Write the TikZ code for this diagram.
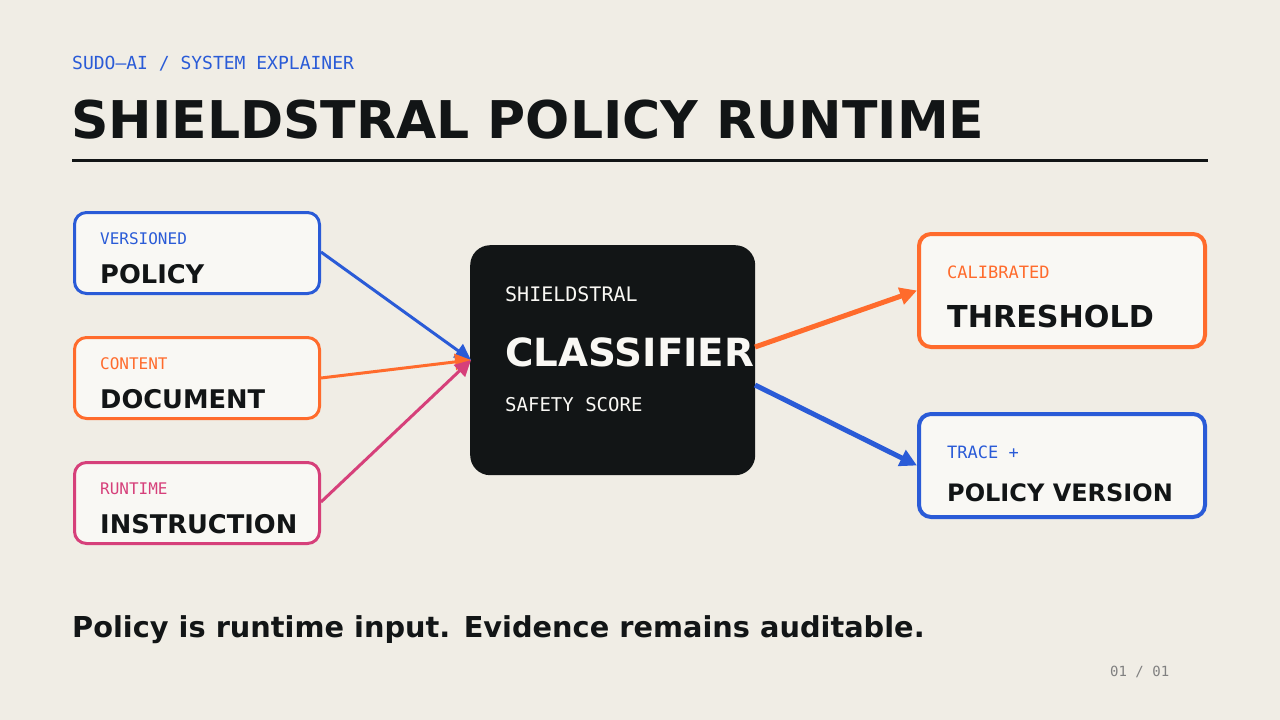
\documentclass[tikz,border=0pt]{standalone}
\usepackage{fontspec}
\setmainfont{DejaVu Sans}
\newfontfamily\monofont{DejaVu Sans Mono}
\usetikzlibrary{arrows.meta}
\definecolor{bgpaper}{HTML}{F0EDE5}
\definecolor{cardfill}{HTML}{F9F8F4}
\definecolor{inkdark}{HTML}{121516}
\definecolor{sudoblue}{HTML}{2A5BD7}
\definecolor{sudoorange}{HTML}{FF6B2C}
\definecolor{sudopink}{HTML}{D6407A}
\tikzset{
  card/.style = {draw = #1, line width = 3pt, fill = cardfill, rounded corners = 12pt, anchor = north west},
  tag/.style = {anchor = base west, inner sep = 0pt, text = #1, font = \monofont\fontsize{16}{16}\selectfont},
  head/.style = {anchor = base west, inner sep = 0pt, text = inkdark, font = \bfseries\fontsize{25.7}{25.7}\selectfont},
  feed/.style = {draw = #1, line width = 3pt, -{Triangle[length = 16pt, width = 16pt]}},
}
\begin{document}
\begin{tikzpicture}[x = 1pt, y = -1pt]
        \fill [bgpaper] (0, 0) rectangle (1280, 720);
        \useasboundingbox (0, 0) rectangle (1280, 720);
        % header
        \node [tag = sudoblue, font = \monofont\fontsize{18}{18}\selectfont] (kicker) at (72, 69) {SUDO—AI / SYSTEM EXPLAINER};
        \node [head, font = \bfseries\fontsize{52}{52}\selectfont] (title) at (71, 138) {SHIELDSTRAL POLICY RUNTIME};
        \draw [inkdark, line width = 3pt] (72, 160) -- (1208, 160);
        % inputs
        \node [card = sudoblue, minimum width = 245pt, minimum height = 81pt] (policy) at (73, 211) {};
        \node [tag = sudoblue] at (100, 244) {VERSIONED};
        \node [head] at (100, 283) {POLICY};
        \node [card = sudoorange, minimum width = 245pt, minimum height = 81pt] (document) at (73, 336) {};
        \node [tag = sudoorange] at (100, 369) {CONTENT};
        \node [head] at (100, 408) {DOCUMENT};
        \node [card = sudopink, minimum width = 245pt, minimum height = 81pt] (instruction) at (73, 461) {};
        \node [tag = sudopink] at (100, 494) {RUNTIME};
        \node [head] at (100, 533) {INSTRUCTION};
        % classifier
        \node [fill = inkdark, rounded corners = 20pt, minimum width = 285pt, minimum height = 230pt, anchor = north west] (classifier) at (470, 245) {};
        \node [tag = cardfill, font = \monofont\fontsize{20}{20}\selectfont] at (505, 301) {SHIELDSTRAL};
        \node [head, text = cardfill, font = \bfseries\fontsize{38.8}{38.8}\selectfont] at (505, 366) {CLASSIFIER};
        \node [tag = cardfill, font = \monofont\fontsize{19}{19}\selectfont] at (505, 411) {SAFETY SCORE};
        % outputs
        \node [card = sudoorange, line width = 4pt, minimum width = 286pt, minimum height = 113pt] (threshold) at (917, 232) {};
        \node [tag = sudoorange, font = \monofont\fontsize{17}{17}\selectfont] at (947, 278) {CALIBRATED};
        \node [head, font = \bfseries\fontsize{30.2}{30.2}\selectfont] at (947, 327) {THRESHOLD};
        \node [card = sudoblue, line width = 4pt, minimum width = 286pt, minimum height = 103pt] (trace) at (917, 412) {};
        \node [tag = sudoblue, font = \monofont\fontsize{17}{17}\selectfont] at (947, 458) {TRACE +};
        \node [head, font = \bfseries\fontsize{24}{24}\selectfont] at (947, 501) {POLICY VERSION};
        % connectors
        \coordinate (intake) at (471, 360);
        \draw [feed = sudoblue] (policy.east) ++(0, -1) -- (intake);
        \draw [feed = sudoorange] (document.east) -- (intake);
        \draw [feed = sudopink] (instruction.east) ++(0, -1) -- (intake);
        \draw [feed = sudoorange, line width = 5pt, -{Triangle[length = 17pt, width = 17pt]}] (755, 347) -- (threshold.west);
        \draw [feed = sudoblue, line width = 5pt, -{Triangle[length = 17pt, width = 17pt]}] (755, 385) -- (trace.west);
        % footer
        \node [head, font = \bfseries\fontsize{28.8}{28.8}\selectfont] (takeaway) at (72, 637) {Policy is runtime input. Evidence remains auditable.};
        \node [tag = gray, font = \monofont\fontsize{14}{14}\selectfont] (folio) at (1110, 676) {01 / 01};
    \end{tikzpicture}
\end{document}
